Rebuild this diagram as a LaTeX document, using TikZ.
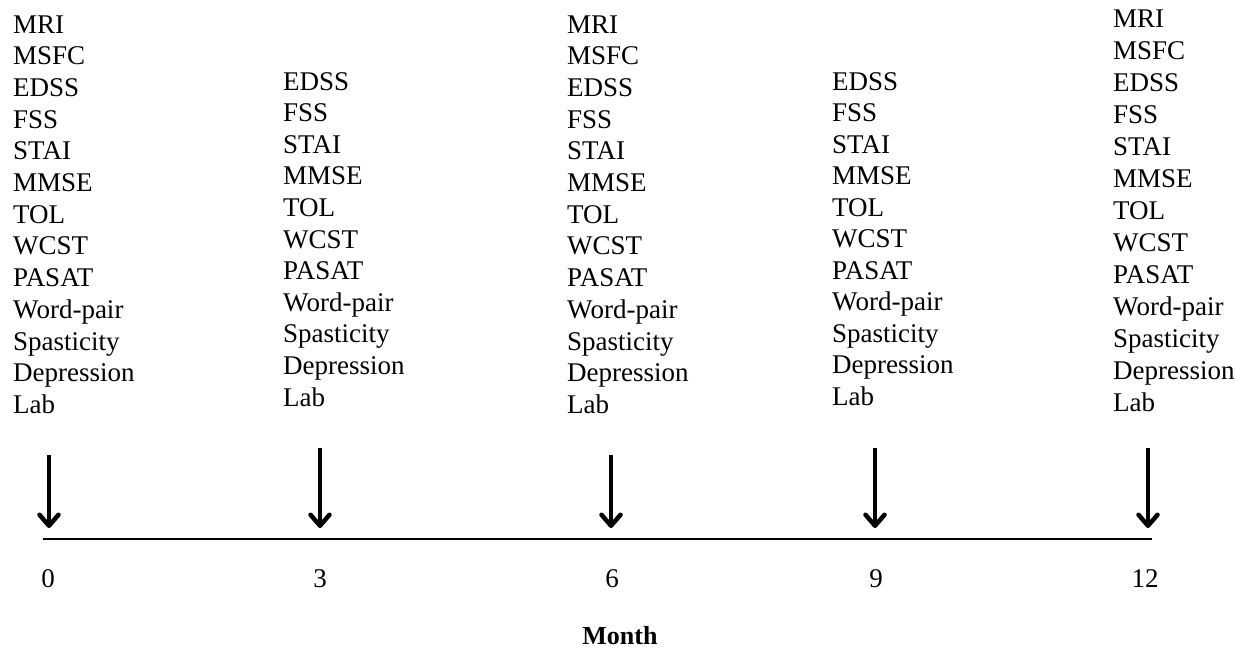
\documentclass[tikz,border=0pt]{standalone}
\usepackage{fontspec}
\setmainfont{Liberation Serif}
\usetikzlibrary{arrows.meta}
\begin{document}
\begin{tikzpicture}[x=1pt,y=-1pt,
  lbl/.style={inner sep=0pt,anchor=base west,font=\fontsize{27}{32}\selectfont},
  num/.style={inner sep=0pt,anchor=base,font=\fontsize{27}{32}\selectfont},
  ttl/.style={inner sep=0pt,anchor=base,font=\fontsize{26}{30}\selectfont\bfseries},
  axisline/.style={line width=2.8pt},
  tickarrow/.style={line width=4pt,-{Straight Barb[length=11pt,width=19pt,line width=4.5pt,round]}}]
\useasboundingbox (0,0) rectangle (1236,651);
% columns of measures
\foreach \t [count=\i from 0] in {MRI,MSFC,EDSS,FSS,STAI,MMSE,TOL,WCST,PASAT,Word-pair,Spasticity,Depression,Lab}
  \node[lbl] (c0-\i) at (13,{33+\i*31.7}) {\t};
\foreach \t [count=\i from 0] in {EDSS,FSS,STAI,MMSE,TOL,WCST,PASAT,Word-pair,Spasticity,Depression,Lab}
  \node[lbl] (c3-\i) at (283,{90+\i*31.6}) {\t};
\foreach \t [count=\i from 0] in {MRI,MSFC,EDSS,FSS,STAI,MMSE,TOL,WCST,PASAT,Word-pair,Spasticity,Depression,Lab}
  \node[lbl] (c6-\i) at (567,{33+\i*31.7}) {\t};
\foreach \t [count=\i from 0] in {EDSS,FSS,STAI,MMSE,TOL,WCST,PASAT,Word-pair,Spasticity,Depression,Lab}
  \node[lbl] (c9-\i) at (832,{90+\i*31.5}) {\t};
\foreach \t [count=\i from 0] in {MRI,MSFC,EDSS,FSS,STAI,MMSE,TOL,WCST,PASAT,Word-pair,Spasticity,Depression,Lab}
  \node[lbl] (c12-\i) at (1113,{27+\i*32}) {\t};
% arrows
\coordinate (a0s) at (49,455);   \coordinate (a0e) at (49,528);
\coordinate (a3s) at (320,448);  \coordinate (a3e) at (320,528);
\coordinate (a6s) at (611,455);  \coordinate (a6e) at (611,528);
\coordinate (a9s) at (875,448);  \coordinate (a9e) at (875,528);
\coordinate (a12s) at (1148,448); \coordinate (a12e) at (1148,528);
\foreach \k in {0,3,6,9,12}
  \draw[tickarrow] (a\k s) -- (a\k e);
% axis
\coordinate (axL) at (43,539);
\coordinate (axR) at (1152,539);
\draw[axisline] (axL) -- (axR);
% month numbers
\node[num] (m0) at (48,587) {0};
\node[num] (m3) at (320,587) {3};
\node[num] (m6) at (612,587) {6};
\node[num] (m9) at (876,587) {9};
\node[num] (m12) at (1145,587) {12};
\node[ttl] (month) at (620,644) {Month};
\end{tikzpicture}
\end{document}
